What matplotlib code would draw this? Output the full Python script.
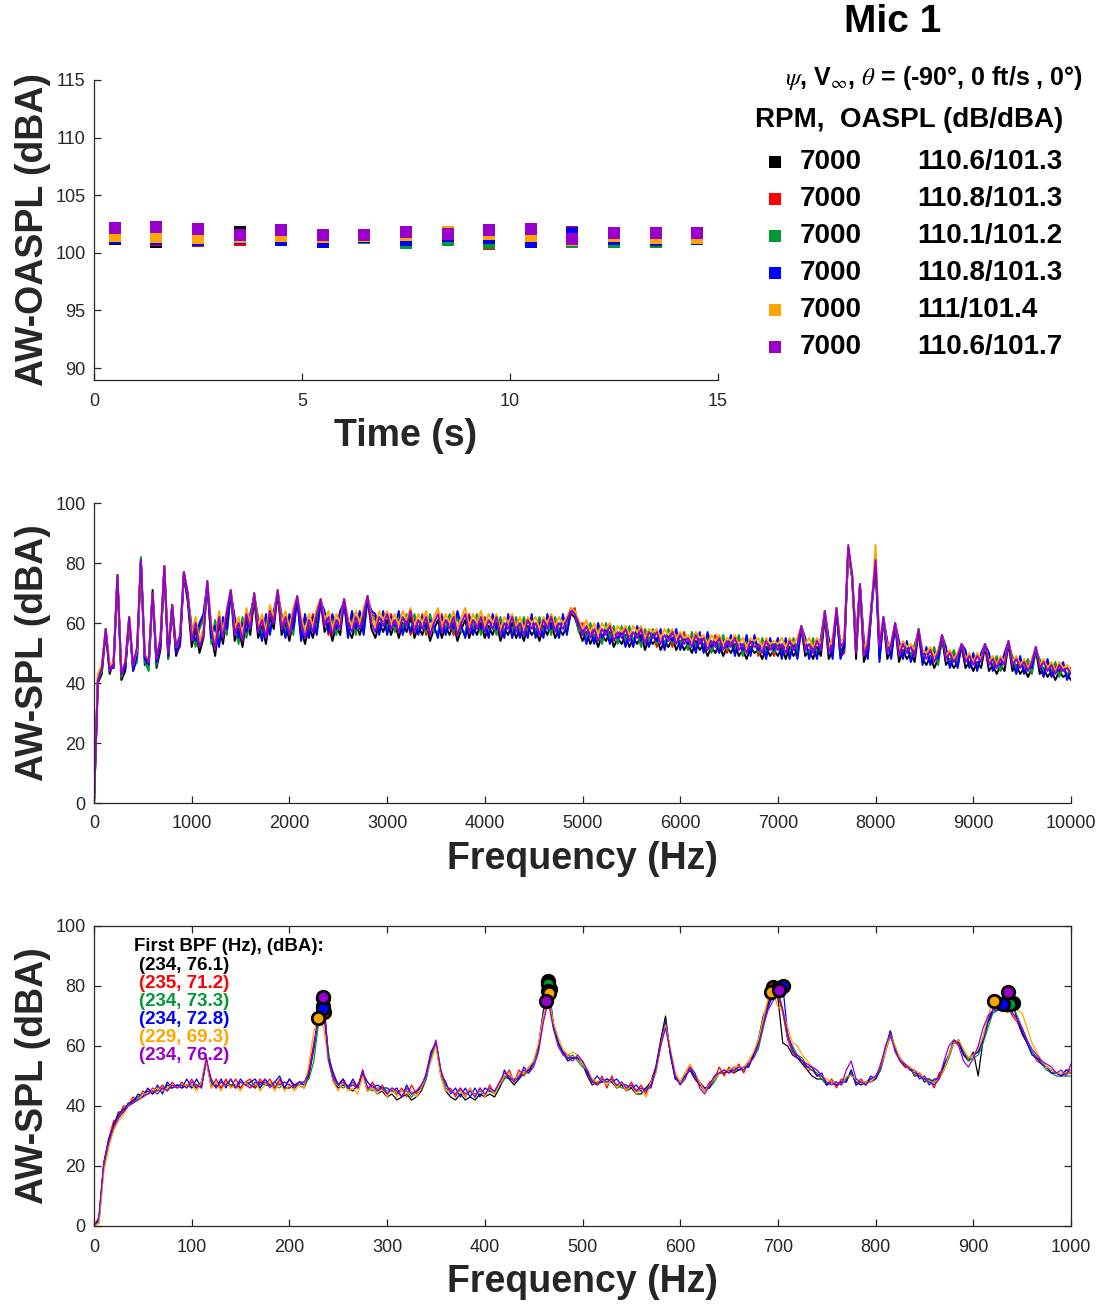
import numpy as np
import matplotlib
matplotlib.use("Agg")
import matplotlib.pyplot as plt
from matplotlib.lines import Line2D

plt.rcParams['font.family'] = ['Liberation Sans', 'DejaVu Sans']
plt.rcParams['mathtext.fontset'] = 'stix'

names = ['black', 'red', 'green', 'blue', 'orange', 'purple']
colors = ['#000000', '#FF0000', '#009933', '#0000FF', '#FFA500', '#9900CC']
rpm = [7000, 7000, 7000, 7000, 7000, 7000]
oaspl_txt = ['110.6/101.3', '110.8/101.3', '110.1/101.2', '110.8/101.3', '111/101.4', '110.6/101.7']

# OASPL time history (dBA)
time_s = [0.5, 1.5, 2.5, 3.5, 4.5, 5.5, 6.5, 7.5, 8.5, 9.5, 10.5, 11.5, 12.5, 13.5, 14.5]
oaspl_black = [101.2, 100.97, 101.1, 101.81, 101.4, 101.2, 101.25, 101.3, 101.5, 101.3, 101.2, 101.2, 101.3, 101.2, 101.3]
oaspl_red = [101.25, 101.1, 101.03, 101.09, 101.3, 101.2, 101.35, 101.2, 101.5, 100.74, 101.2, 101.8, 101.2, 101.1, 101.2]
oaspl_green = [101.33, 101.23, 101.2, 101.3, 101.3, 101.1, 101.29, 100.88, 101.09, 100.82, 101.2, 100.94, 100.97, 100.97, 101.2]
oaspl_blue = [101.3, 101.2, 101.1, 101.3, 101.13, 100.97, 101.4, 101.1, 101.46, 101.32, 100.97, 101.72, 101.2, 101.14, 101.2]
oaspl_orange = [101.46, 101.37, 101.32, 101.37, 101.46, 101.37, 101.5, 101.55, 101.78, 101.61, 101.46, 101.1, 101.46, 101.32, 101.29]
oaspl_purple = [102.13, 102.26, 102.03, 101.55, 101.97, 101.56, 101.56, 101.79, 101.64, 101.97, 102.04, 101.24, 101.74, 101.74, 101.74]

# broadband spectrum, 0-10000 Hz every 40 Hz (dBA)
freq_wide = np.arange(0, 10001, 40)
wide_black = [
    0, 40, 43, 57, 43, 47, 75, 41, 44, 61, 45, 49, 80, 46, 48, 71, 45, 51, 78, 48, 65, 49, 53, 76, 67,
    52, 58, 50, 55, 73, 56, 49, 60, 53, 62, 70, 54, 58, 52, 61, 56, 68, 55, 59, 53, 62, 58, 70, 56, 60,
    54, 61, 68, 58, 53, 59, 55, 61, 67, 57, 60, 54, 59, 56, 67, 58, 55, 60, 56, 61, 68, 58, 55, 60, 57,
    61, 56, 60, 55, 60, 57, 62, 55, 59, 56, 60, 54, 58, 61, 55, 59, 56, 60, 54, 58, 61, 55, 59, 56, 60,
    55, 59, 56, 60, 54, 58, 56, 60, 55, 58, 54, 59, 56, 58, 54, 59, 56, 60, 55, 58, 56, 59, 63, 62, 58,
    54, 57, 53, 56, 52, 56, 54, 57, 52, 55, 53, 56, 52, 55, 53, 56, 51, 55, 53, 55, 51, 54, 52, 55, 51,
    54, 51, 53, 50, 54, 51, 53, 49, 52, 50, 53, 49, 52, 50, 53, 49, 51, 48, 52, 50, 51, 48, 52, 49, 51,
    49, 52, 48, 52, 49, 51, 58, 49, 51, 48, 52, 49, 62, 48, 51, 64, 50, 53, 84, 75, 48, 72, 47, 51, 67,
    80, 50, 61, 48, 51, 59, 47, 51, 48, 50, 47, 57, 48, 46, 49, 45, 48, 55, 46, 48, 45, 47, 52, 45, 47,
    44, 47, 45, 52, 44, 46, 43, 46, 44, 53, 44, 46, 43, 45, 42, 45, 51, 43, 45, 42, 44, 41, 44, 42, 43, 41]
wide_red = [
    0, 42, 45, 58, 45, 45, 76, 43, 45, 62, 44, 48, 81, 48, 46, 70, 47, 52, 79, 49, 66, 50, 52, 77, 69,
    58, 53, 59, 62, 73, 54, 60, 53, 61, 57, 70, 61, 54, 61, 56, 62, 69, 62, 55, 62, 57, 63, 70, 63, 56,
    62, 57, 68, 55, 62, 56, 63, 57, 67, 63, 56, 62, 57, 63, 67, 56, 63, 57, 63, 58, 68, 63, 62, 57, 63,
    57, 63, 58, 63, 57, 62, 56, 62, 57, 63, 56, 62, 58, 56, 63, 57, 62, 56, 63, 58, 56, 63, 57, 62, 57,
    62, 56, 62, 57, 61, 56, 62, 56, 61, 56, 61, 56, 62, 56, 61, 56, 62, 57, 61, 56, 62, 57, 63, 65, 58,
    60, 54, 59, 54, 59, 54, 59, 54, 58, 54, 58, 53, 58, 53, 58, 53, 57, 53, 57, 52, 57, 52, 57, 52, 57,
    52, 57, 52, 56, 51, 56, 51, 56, 51, 56, 51, 55, 50, 55, 50, 55, 50, 55, 50, 55, 49, 54, 49, 54, 49,
    54, 49, 54, 49, 54, 49, 58, 54, 49, 54, 49, 54, 63, 54, 49, 64, 49, 50, 85, 75, 53, 72, 53, 49, 65,
    80, 48, 61, 53, 49, 59, 53, 49, 53, 48, 52, 57, 47, 51, 47, 51, 47, 55, 51, 46, 50, 46, 52, 50, 46,
    49, 45, 49, 52, 49, 45, 48, 45, 49, 53, 48, 44, 48, 44, 47, 44, 51, 47, 43, 47, 43, 46, 43, 46, 42, 45]
wide_green = [
    0, 41, 44, 58, 44, 46, 76, 42, 46, 62, 45, 47, 82, 47, 44, 70, 46, 54, 79, 48, 66, 51, 55, 77, 69,
    59, 52, 58, 61, 74, 53, 61, 54, 60, 56, 71, 60, 53, 62, 55, 61, 70, 61, 56, 61, 58, 62, 71, 62, 57,
    61, 56, 69, 56, 61, 57, 62, 58, 68, 62, 57, 61, 56, 62, 68, 57, 62, 56, 62, 57, 69, 62, 61, 58, 62,
    58, 62, 57, 62, 58, 63, 57, 63, 58, 62, 57, 63, 57, 57, 62, 58, 63, 57, 62, 57, 57, 62, 58, 63, 56,
    61, 57, 61, 56, 62, 57, 61, 57, 62, 57, 62, 57, 61, 57, 62, 57, 61, 56, 62, 57, 61, 58, 65, 64, 57,
    59, 55, 60, 55, 58, 53, 60, 55, 59, 53, 59, 54, 59, 54, 57, 52, 58, 54, 58, 53, 56, 53, 58, 53, 56,
    53, 56, 51, 57, 52, 55, 52, 55, 50, 55, 52, 56, 51, 54, 51, 56, 49, 54, 51, 54, 50, 55, 50, 53, 50,
    53, 50, 53, 50, 55, 50, 58, 53, 50, 55, 50, 53, 63, 53, 50, 64, 50, 51, 84, 75, 52, 72, 52, 50, 65,
    79, 49, 61, 52, 50, 59, 52, 50, 52, 49, 53, 57, 48, 50, 48, 52, 46, 55, 50, 47, 51, 47, 52, 49, 47,
    48, 46, 48, 52, 48, 46, 49, 44, 48, 53, 49, 45, 47, 45, 48, 43, 51, 48, 44, 46, 44, 47, 42, 45, 43, 44]
wide_blue = [
    0, 42, 45, 57, 45, 45, 75, 43, 45, 61, 44, 49, 81, 48, 46, 70, 47, 53, 78, 49, 66, 50, 53, 76, 68,
    57, 54, 60, 63, 73, 55, 59, 52, 62, 58, 70, 62, 55, 60, 57, 63, 69, 60, 54, 63, 56, 64, 70, 61, 55,
    63, 58, 68, 54, 63, 55, 62, 56, 67, 64, 57, 63, 58, 64, 67, 55, 64, 58, 64, 56, 68, 64, 63, 56, 64,
    56, 62, 59, 64, 56, 61, 57, 61, 56, 62, 58, 61, 59, 55, 62, 56, 61, 58, 64, 59, 55, 62, 56, 61, 58,
    60, 55, 63, 58, 60, 55, 63, 55, 60, 55, 60, 55, 63, 55, 60, 55, 63, 58, 60, 55, 63, 56, 64, 64, 59,
    58, 53, 58, 53, 60, 55, 58, 53, 57, 55, 57, 52, 57, 52, 59, 54, 56, 52, 56, 54, 58, 51, 56, 54, 58,
    51, 55, 53, 55, 50, 57, 50, 57, 52, 54, 50, 54, 52, 56, 49, 54, 51, 56, 49, 56, 51, 53, 48, 55, 51,
    55, 48, 55, 48, 53, 48, 59, 55, 48, 53, 48, 55, 64, 55, 48, 65, 48, 52, 85, 76, 54, 73, 54, 48, 66,
    81, 47, 62, 54, 48, 60, 54, 48, 54, 47, 51, 58, 46, 52, 46, 50, 48, 56, 52, 45, 49, 45, 53, 51, 45,
    50, 44, 50, 53, 50, 44, 47, 46, 50, 54, 47, 43, 49, 43, 46, 45, 52, 46, 42, 48, 42, 45, 44, 47, 41, 44]
wide_orange = [
    0, 43, 46, 58, 46, 47, 76, 44, 47, 62, 46, 51, 80, 50, 47, 70, 49, 55, 79, 51, 66, 52, 56, 77, 70,
    56, 62, 54, 58, 74, 60, 53, 64, 57, 65, 71, 58, 62, 56, 65, 60, 70, 59, 63, 57, 66, 62, 71, 60, 64,
    58, 65, 69, 62, 57, 63, 59, 65, 68, 61, 64, 58, 63, 60, 68, 62, 59, 64, 60, 65, 69, 62, 59, 64, 61,
    64, 60, 63, 59, 64, 61, 65, 59, 63, 60, 64, 58, 62, 65, 59, 63, 60, 64, 58, 62, 65, 59, 63, 60, 64,
    59, 63, 60, 63, 58, 62, 60, 63, 59, 62, 58, 62, 60, 62, 58, 62, 60, 63, 59, 62, 60, 62, 65, 64, 61,
    58, 61, 57, 60, 56, 60, 58, 60, 56, 59, 57, 59, 56, 59, 57, 59, 55, 58, 57, 58, 55, 58, 56, 58, 55,
    57, 55, 56, 54, 57, 55, 56, 53, 56, 54, 56, 53, 55, 54, 56, 53, 55, 52, 55, 54, 55, 52, 55, 53, 54,
    53, 55, 52, 55, 53, 55, 59, 53, 55, 52, 55, 53, 64, 52, 55, 65, 54, 55, 85, 76, 52, 73, 51, 55, 66,
    86, 53, 62, 52, 54, 60, 51, 54, 52, 53, 51, 58, 51, 50, 52, 49, 51, 56, 49, 51, 48, 50, 53, 48, 50,
    47, 50, 48, 53, 47, 49, 46, 49, 47, 54, 47, 49, 46, 48, 45, 48, 52, 46, 48, 45, 47, 44, 47, 45, 46, 44]
wide_purple = [
    0, 41, 45, 58, 44, 46, 76, 43, 47, 62, 46, 52, 81, 49, 47, 70, 48, 55, 79, 50, 66, 52, 56, 77, 70,
    54, 60, 52, 56, 74, 58, 51, 62, 55, 64, 71, 56, 60, 54, 63, 58, 70, 57, 61, 55, 64, 60, 71, 58, 62,
    56, 63, 69, 60, 55, 61, 57, 63, 68, 59, 62, 56, 61, 58, 68, 60, 57, 62, 58, 63, 69, 60, 57, 62, 59,
    63, 58, 61, 57, 62, 59, 64, 57, 61, 58, 62, 56, 60, 63, 57, 61, 58, 62, 56, 60, 63, 57, 61, 58, 62,
    57, 61, 58, 62, 56, 60, 58, 62, 57, 60, 56, 61, 58, 60, 56, 61, 58, 62, 57, 60, 58, 61, 64, 63, 60,
    56, 59, 55, 58, 54, 58, 56, 59, 54, 57, 55, 58, 54, 57, 55, 58, 53, 57, 55, 57, 53, 56, 54, 57, 53,
    56, 53, 55, 52, 56, 53, 55, 51, 54, 52, 55, 51, 54, 52, 55, 51, 53, 50, 54, 52, 53, 50, 54, 51, 53,
    51, 53, 50, 54, 51, 53, 59, 51, 53, 50, 54, 51, 64, 50, 53, 65, 52, 54, 86, 76, 50, 73, 49, 53, 66,
    81, 52, 62, 50, 53, 60, 49, 53, 50, 52, 49, 58, 50, 48, 51, 47, 50, 56, 48, 50, 47, 49, 53, 47, 49,
    46, 49, 47, 53, 46, 48, 45, 48, 46, 54, 46, 48, 45, 47, 44, 47, 52, 45, 47, 44, 46, 43, 46, 44, 45, 43]

# low-frequency spectrum, 0-1000 Hz every 5 Hz (dBA)
freq_low = np.arange(0, 1001, 5)
low_black = [
    0, 2, 20, 28, 34, 37, 39, 40, 42, 43, 44, 45, 44, 46, 45, 47, 46, 47, 46, 47,
    47, 46, 48, 55, 47, 47, 46, 48, 47, 47, 46, 48, 47, 46, 48, 47, 47, 46, 48, 46,
    46, 47, 47, 46, 50, 59, 70, 76, 56, 48, 46, 47, 46, 45, 47, 51, 45, 46, 44, 45,
    43, 44, 42, 43, 44, 42, 43, 45, 49, 58, 61, 50, 45, 43, 42, 44, 42, 43, 42, 44,
    43, 44, 43, 46, 50, 49, 47, 49, 51, 52, 54, 60, 72, 81, 68, 61, 58, 55, 56, 56,
    54, 50, 47, 48, 48, 49, 48, 46, 47, 45, 46, 44, 44, 46, 48, 53, 62, 70, 57, 49,
    48, 50, 52, 49, 47, 46, 46, 49, 51, 51, 52, 51, 52, 53, 53, 57, 62, 70, 74, 79,
    76, 61, 60, 57, 56, 54, 52, 50, 49, 49, 47, 48, 47, 48, 49, 51, 48, 47, 48, 48,
    49, 52, 58, 65, 59, 55, 53, 53, 50, 51, 48, 49, 48, 50, 53, 57, 62, 61, 57, 55,
    58, 50, 62, 68, 71, 72, 73, 74, 74, 69, 65, 61, 58, 56, 55, 53, 52, 51, 50, 51,
    51]
low_red = [
    0, 2, 21, 29, 35, 36, 40, 40, 43, 42, 45, 44, 46, 45, 47, 45, 48, 46, 48, 46,
    49, 46, 48, 56, 46, 49, 46, 49, 46, 49, 46, 48, 49, 46, 49, 47, 49, 46, 49, 46,
    49, 46, 48, 47, 52, 61, 69, 71, 57, 50, 47, 49, 46, 48, 46, 52, 45, 48, 45, 47,
    44, 46, 44, 46, 43, 47, 44, 47, 50, 57, 61, 51, 45, 46, 43, 46, 43, 46, 43, 46,
    43, 47, 44, 48, 49, 52, 48, 52, 50, 53, 54, 60, 70, 79, 67, 61, 58, 57, 56, 56,
    54, 51, 49, 47, 50, 46, 50, 46, 48, 45, 48, 45, 47, 44, 48, 52, 61, 68, 58, 50,
    48, 51, 53, 50, 47, 45, 48, 49, 53, 50, 53, 51, 54, 51, 55, 57, 62, 69, 75, 79,
    77, 71, 62, 58, 56, 55, 52, 52, 50, 50, 47, 49, 46, 49, 48, 52, 47, 49, 47, 49,
    49, 54, 59, 64, 59, 56, 53, 53, 50, 51, 49, 49, 46, 51, 52, 57, 61, 61, 58, 56,
    57, 58, 63, 69, 72, 73, 73, 74, 70, 68, 64, 61, 58, 55, 54, 53, 51, 51, 50, 52,
    52]
low_green = [
    0, 1, 19, 27, 32, 36, 38, 40, 41, 43, 44, 44, 45, 45, 46, 46, 46, 47, 47, 47,
    46, 47, 47, 55, 47, 47, 48, 47, 47, 46, 48, 47, 48, 47, 46, 48, 47, 47, 46, 48,
    47, 46, 47, 48, 49, 55, 68, 73, 58, 49, 47, 46, 47, 47, 46, 51, 46, 45, 46, 46,
    45, 45, 44, 45, 45, 43, 45, 46, 49, 56, 61, 52, 46, 45, 44, 45, 43, 45, 44, 45,
    44, 45, 44, 46, 49, 50, 48, 50, 51, 51, 54, 59, 71, 80, 67, 62, 57, 56, 57, 55,
    53, 52, 48, 47, 48, 48, 48, 47, 46, 46, 47, 45, 45, 45, 47, 51, 60, 68, 58, 50,
    47, 50, 52, 50, 48, 45, 46, 48, 51, 52, 51, 52, 52, 52, 54, 56, 59, 66, 73, 77,
    79, 72, 63, 60, 57, 56, 53, 52, 51, 49, 47, 48, 48, 47, 49, 51, 48, 48, 48, 49,
    49, 52, 58, 63, 60, 55, 54, 53, 50, 50, 49, 49, 47, 49, 52, 56, 61, 62, 58, 55,
    56, 57, 61, 66, 71, 72, 72, 73, 74, 70, 66, 62, 58, 56, 54, 52, 51, 50, 50, 50,
    50]
low_blue = [
    0, 2, 21, 29, 33, 38, 38, 41, 41, 44, 43, 46, 44, 47, 44, 48, 46, 47, 46, 49,
    46, 49, 46, 55, 49, 46, 49, 46, 49, 46, 49, 47, 48, 49, 46, 49, 47, 48, 50, 46,
    49, 47, 48, 47, 51, 60, 71, 73, 56, 51, 47, 49, 46, 49, 46, 51, 48, 46, 47, 46,
    46, 45, 46, 43, 47, 44, 45, 46, 51, 58, 61, 51, 48, 44, 46, 43, 46, 43, 46, 43,
    46, 45, 45, 46, 52, 49, 49, 49, 53, 51, 55, 60, 71, 78, 67, 61, 58, 56, 56, 56,
    55, 51, 48, 50, 48, 49, 48, 49, 47, 47, 46, 47, 45, 46, 46, 52, 61, 68, 57, 49,
    48, 50, 52, 50, 48, 46, 46, 50, 51, 52, 51, 53, 52, 53, 53, 57, 61, 68, 73, 77,
    78, 80, 64, 59, 56, 55, 53, 53, 50, 51, 47, 48, 47, 48, 48, 52, 47, 48, 47, 50,
    49, 53, 59, 65, 59, 56, 54, 52, 52, 49, 50, 47, 49, 49, 54, 57, 61, 62, 57, 56,
    57, 58, 62, 68, 72, 72, 73, 73, 71, 69, 64, 61, 57, 56, 54, 53, 51, 51, 50, 52,
    51]
low_orange = [
    0, 1, 18, 26, 32, 35, 37, 40, 41, 42, 44, 44, 45, 46, 45, 46, 47, 46, 47, 47,
    47, 45, 48, 55, 46, 48, 45, 48, 46, 47, 45, 48, 46, 48, 45, 47, 48, 45, 48, 45,
    47, 45, 47, 46, 54, 65, 69, 66, 55, 48, 45, 48, 45, 46, 44, 50, 45, 46, 44, 46,
    43, 46, 43, 45, 44, 45, 43, 46, 50, 55, 60, 50, 45, 45, 44, 45, 43, 46, 43, 46,
    43, 46, 44, 47, 50, 51, 48, 51, 51, 53, 55, 61, 70, 77, 68, 63, 59, 57, 58, 57,
    54, 52, 49, 48, 49, 47, 49, 46, 48, 45, 47, 44, 46, 43, 48, 51, 60, 67, 59, 51,
    48, 51, 54, 51, 48, 45, 47, 49, 51, 52, 52, 53, 53, 53, 55, 58, 62, 69, 76, 78,
    73, 72, 66, 61, 60, 57, 55, 53, 52, 50, 49, 48, 48, 47, 50, 50, 49, 48, 48, 48,
    50, 53, 58, 64, 60, 56, 54, 53, 52, 51, 49, 48, 48, 49, 52, 57, 61, 62, 59, 56,
    57, 59, 63, 70, 75, 73, 72, 71, 73, 72, 71, 66, 61, 58, 55, 53, 52, 51, 51, 51,
    51]
low_purple = [
    0, 3, 21, 28, 33, 36, 38, 40, 41, 42, 43, 44, 45, 44, 46, 45, 47, 46, 47, 46,
    48, 47, 46, 56, 48, 46, 48, 47, 49, 46, 48, 47, 46, 48, 47, 49, 46, 48, 47, 48,
    47, 46, 48, 48, 51, 60, 70, 76, 55, 49, 47, 48, 46, 47, 46, 52, 46, 47, 45, 46,
    44, 46, 45, 43, 46, 44, 45, 47, 50, 57, 62, 52, 47, 45, 44, 46, 44, 45, 43, 46,
    44, 46, 45, 48, 51, 50, 48, 50, 52, 51, 53, 58, 68, 75, 66, 60, 57, 56, 55, 57,
    55, 52, 48, 47, 49, 48, 49, 47, 48, 46, 47, 45, 46, 45, 47, 52, 60, 66, 58, 50,
    47, 49, 53, 51, 46, 44, 47, 50, 51, 52, 51, 52, 53, 52, 54, 56, 60, 67, 72, 75,
    78, 72, 64, 58, 57, 55, 54, 53, 52, 50, 48, 47, 48, 47, 52, 55, 49, 48, 47, 49,
    50, 53, 60, 64, 58, 55, 54, 52, 51, 50, 49, 48, 47, 49, 55, 60, 62, 60, 55, 53,
    56, 60, 66, 70, 72, 73, 73, 77, 71, 69, 66, 62, 59, 57, 55, 54, 53, 51, 52, 50,
    54]

# blade passage frequency peaks (Hz, dBA)
bpf_f_black = [234, 465, 695, 941]
bpf_db_black = [76.1, 81.6, 79.2, 74.2]
bpf_f_red = [235, 467, 695, 935]
bpf_db_red = [71.2, 79.0, 79.8, 74.0]
bpf_f_green = [234, 465, 700, 938]
bpf_db_green = [73.3, 80.7, 79.4, 73.9]
bpf_f_blue = [234, 465, 705, 930]
bpf_db_blue = [72.8, 78.5, 80.0, 73.9]
bpf_f_orange = [229, 466, 693, 921]
bpf_db_orange = [69.3, 77.6, 77.9, 75.1]
bpf_f_purple = [234, 463, 701, 936]
bpf_db_purple = [76.2, 74.9, 78.7, 78.1]

oaspl = [oaspl_black, oaspl_red, oaspl_green, oaspl_blue, oaspl_orange, oaspl_purple]
wide = [wide_black, wide_red, wide_green, wide_blue, wide_orange, wide_purple]
low = [low_black, low_red, low_green, low_blue, low_orange, low_purple]
bpf_f = [bpf_f_black, bpf_f_red, bpf_f_green, bpf_f_blue, bpf_f_orange, bpf_f_purple]
bpf_db = [bpf_db_black, bpf_db_red, bpf_db_green, bpf_db_blue, bpf_db_orange, bpf_db_purple]

W, H = 1104, 1306
fig = plt.figure(figsize=(W / 100, H / 100), dpi=100)
axc = '#262626'


def box(left, top, right, bottom):
    return [left / W, 1 - bottom / H, (right - left) / W, (bottom - top) / H]


def style(ax, full=False):
    for s in ax.spines.values():
        s.set_color(axc)
        s.set_linewidth(0.9)
    if not full:
        ax.spines['top'].set_visible(False)
        ax.spines['right'].set_visible(False)
    ax.tick_params(direction='in', length=5, width=0.9, colors=axc, labelsize=13,
                   top=full, right=full)
    ax.tick_params(axis='x', pad=9)
    ax.tick_params(axis='y', pad=6)


lab = dict(fontsize=27, fontweight='bold', color=axc)

# top: OASPL vs time
ax1 = fig.add_axes(box(94, 80, 718, 380))
for y, c in zip(oaspl, colors):
    ax1.plot(time_s, y, 's', color=c, ms=9, mew=0, zorder=3)
ax1.set_xlim(0, 15)
ax1.set_ylim(88.96, 115)
ax1.set_xticks([0, 5, 10, 15])
ax1.set_yticks([90, 95, 100, 105, 110, 115])
style(ax1)
ax1.set_xlabel('Time (s)', labelpad=6, **lab)
ax1.set_ylabel('AW-OASPL (dBA)', labelpad=3.5, **lab)

# middle: wide band spectrum
ax2 = fig.add_axes(box(94, 503, 1071, 803))
for y, c in zip(wide, colors):
    ax2.plot(freq_wide, y, '-', color=c, lw=1.4)
ax2.set_xlim(0, 10000)
ax2.set_ylim(0, 100)
ax2.set_xticks(np.arange(0, 10001, 1000))
ax2.set_yticks(np.arange(0, 101, 20))
style(ax2)
ax2.set_xlabel('Frequency (Hz)', labelpad=6, **lab)
ax2.set_ylabel('AW-SPL (dBA)', labelpad=3.5, **lab)

# bottom: low frequency spectrum with BPF peaks
ax3 = fig.add_axes(box(94, 926, 1071, 1226))
for y, c in zip(low, colors):
    ax3.plot(freq_low, y, '-', color=c, lw=0.9, zorder=2)
for f, d, c in zip(bpf_f, bpf_db, colors):
    ax3.plot(f, d, 'o', mfc=c, mec='k', mew=2, ms=9, zorder=5)
ax3.set_xlim(0, 1000)
ax3.set_ylim(0, 100)
ax3.set_xticks(np.arange(0, 1001, 100))
ax3.set_yticks(np.arange(0, 101, 20))
style(ax3, full=True)
ax3.set_xlabel('Frequency (Hz)', labelpad=6, **lab)
ax3.set_ylabel('AW-SPL (dBA)', labelpad=3.5, **lab)

ax3.text(0.041, 0.933, 'First BPF (Hz), (dBA):', transform=ax3.transAxes,
         fontsize=13.4, fontweight='bold', va='center', ha='left', zorder=1)
for i, (f, d, c) in enumerate(zip(bpf_f, bpf_db, colors)):
    ax3.text(0.046, 0.867 - i * 0.0595, f'({f[0]}, {d[0]})', transform=ax3.transAxes,
             fontsize=13.5, fontweight='bold', color=c, va='center', ha='left', zorder=1)

# legend block
fig.text(893 / W, 1 - 22 / H, 'Mic 1', fontsize=28, fontweight='bold', ha='center', va='center')
fig.text(1083 / W, 1 - 78 / H, r'$\psi$, V$_{\infty}$, $\theta$ = (-90°, 0 ft/s , 0°)',
         fontsize=18, fontweight='bold', ha='right', va='center')
fig.text(755 / W, 1 - 120 / H, 'RPM,  OASPL (dB/dBA)', fontsize=20, fontweight='bold',
         ha='left', va='center')
for i, (r, t, c) in enumerate(zip(rpm, oaspl_txt, colors)):
    yy = 1 - (162 + 37 * i) / H
    fig.add_artist(Line2D([775 / W], [yy], marker='s', color=c, ms=8.8, mew=0,
                          transform=fig.transFigure))
    fig.text(800 / W, yy, str(r), fontsize=20, fontweight='bold', ha='left', va='center')
    fig.text(917 / W, yy, t, fontsize=20, fontweight='bold', ha='left', va='center')

fig.savefig('out.png', dpi=100)
